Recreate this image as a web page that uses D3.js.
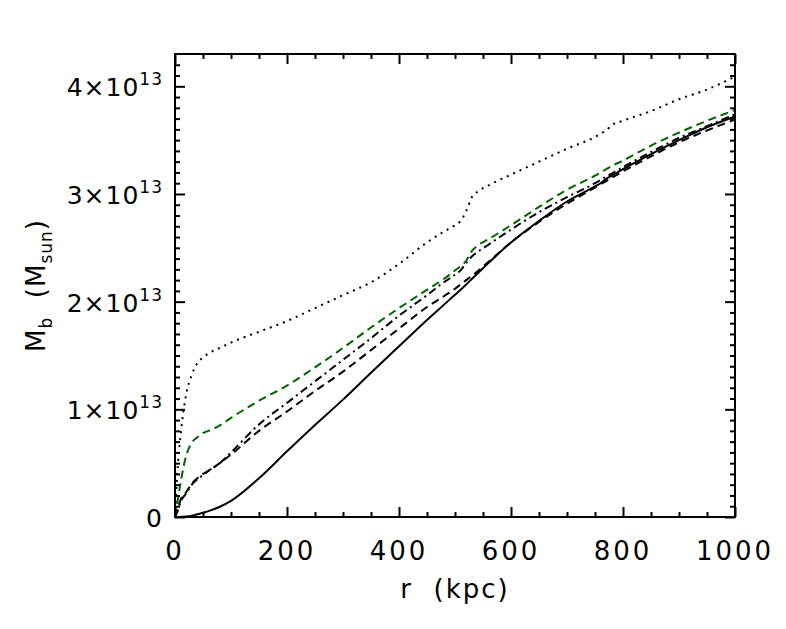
<!DOCTYPE html>
<html>
<head>
<meta charset="utf-8">
<script src="https://cdn.jsdelivr.net/npm/d3@7"></script>
<style>
  body { margin: 0; background: #fff; }
  text { font-family: "DejaVu Sans", sans-serif; fill: #000; }
</style>
</head>
<body>
<div id="chart"></div>
<script>
// radius grid (kpc), shared by all curves
const radius = [0, 5, 10, 20, 30, 40, 50, 60, 80, 100, 150, 200, 250, 300, 350, 400, 450, 480, 500,
  510, 520, 530, 540, 560, 600, 650, 700, 750, 760, 770, 780, 800, 850, 900, 950, 1000];

// enclosed mass in units of 1e13 M_sun
const massSolid = [0, 0, 0.002, 0.005, 0.012, 0.025, 0.04, 0.055, 0.095, 0.15, 0.36, 0.61, 0.855, 1.09, 1.34, 1.585, 1.83, 1.97, 2.065,
  2.11, 2.16, 2.21, 2.26, 2.36, 2.55, 2.75, 2.93, 3.07, 3.1, 3.14, 3.17, 3.23, 3.37, 3.5, 3.62, 3.72];
const massDashed = [0, 0.08, 0.16, 0.23, 0.31, 0.36, 0.4, 0.43, 0.5, 0.58, 0.8, 0.98, 1.17, 1.35, 1.55, 1.75, 1.95, 2.05, 2.12,
  2.16, 2.2, 2.24, 2.28, 2.37, 2.55, 2.74, 2.91, 3.06, 3.09, 3.12, 3.15, 3.21, 3.35, 3.48, 3.59, 3.69];
const massDashDot = [0, 0.06, 0.14, 0.22, 0.3, 0.35, 0.39, 0.43, 0.5, 0.6, 0.86, 1.06, 1.26, 1.46, 1.66, 1.87, 2.06, 2.18, 2.25,
  2.29, 2.36, 2.42, 2.46, 2.53, 2.67, 2.83, 2.97, 3.1, 3.13, 3.16, 3.19, 3.25, 3.39, 3.52, 3.63, 3.74];
const massGreen = [0, 0.16, 0.32, 0.57, 0.69, 0.74, 0.78, 0.8, 0.85, 0.92, 1.08, 1.22, 1.39, 1.57, 1.76, 1.94, 2.11, 2.21, 2.29,
  2.33, 2.38, 2.47, 2.52, 2.58, 2.71, 2.88, 3.04, 3.17, 3.2, 3.23, 3.26, 3.31, 3.45, 3.57, 3.68, 3.78];
const massDotted = [0, 0.48, 0.76, 1.14, 1.32, 1.43, 1.48, 1.52, 1.57, 1.62, 1.72, 1.82, 1.94, 2.06, 2.18, 2.35, 2.55, 2.65, 2.71,
  2.75, 2.84, 2.97, 3.02, 3.08, 3.18, 3.3, 3.42, 3.53, 3.56, 3.59, 3.64, 3.68, 3.77, 3.88, 3.97, 4.09];

const xMajorTicks = [0, 200, 400, 600, 800, 1000];
const yMajorTicks = [0, 1, 2, 3, 4];

const W = 786, H = 629;
const margin = { top: 54, right: 51, bottom: 112, left: 175 };
const width = W - margin.left - margin.right,
      height = H - margin.top - margin.bottom;

const xScale = d3.scaleLinear().domain([0, 1000]).range([0, width]);
const yScale = d3.scaleLinear().domain([0, 4.3]).range([height, 0]);

const svg = d3.select("#chart").append("svg")
  .attr("width", W).attr("height", H);
const g = svg.append("g").attr("transform", `translate(${margin.left},${margin.top})`);

// curves
const series = [
  { y: massSolid, color: "#000", dash: null },
  { y: massDashed, color: "#000", dash: "8,5" },
  { y: massDashDot, color: "#000", dash: "8,4,2,4" },
  { y: massDotted, color: "#000", dash: "2,5" },
  { y: massGreen, color: "#006400", dash: "8,5" }
];
const line = d3.line().x(d => xScale(d[0])).y(d => yScale(d[1])).curve(d3.curveMonotoneX);
series.forEach(s => {
  g.append("path")
    .datum(radius.map((r, i) => [r, s.y[i]]))
    .attr("fill", "none")
    .attr("stroke", s.color)
    .attr("stroke-width", 2)
    .attr("stroke-dasharray", s.dash)
    .attr("d", line);
});

// ticks (inward on all four sides)
const xMinor = d3.range(0, 1001, 50).filter(v => v % 200 !== 0);
const yMinor = d3.range(0, 43).map(v => v / 10).filter(v => Math.abs(v - Math.round(v)) > 1e-6);

function tickAxis(axis, values, size, transform) {
  const a = g.append("g").attr("transform", transform)
    .call(axis.tickValues(values).tickSize(-size).tickFormat(""));
  a.select(".domain").remove();
  a.selectAll("line").attr("stroke", "#000").attr("stroke-width", 2);
}
tickAxis(d3.axisBottom(xScale), xMajorTicks, 10, `translate(0,${height})`);
tickAxis(d3.axisBottom(xScale), xMinor, 5, `translate(0,${height})`);
tickAxis(d3.axisTop(xScale), xMajorTicks, 10, "translate(0,0)");
tickAxis(d3.axisTop(xScale), xMinor, 5, "translate(0,0)");
tickAxis(d3.axisLeft(yScale), yMajorTicks, 10, "translate(0,0)");
tickAxis(d3.axisLeft(yScale), yMinor, 5, "translate(0,0)");
tickAxis(d3.axisRight(yScale), yMajorTicks, 10, `translate(${width},0)`);
tickAxis(d3.axisRight(yScale), yMinor, 5, `translate(${width},0)`);

// frame
g.append("rect")
  .attr("width", width).attr("height", height)
  .attr("fill", "none").attr("stroke", "#000").attr("stroke-width", 2);

// x tick labels
g.selectAll(".xlab").data(xMajorTicks).enter().append("text")
  .attr("x", d => xScale(d)).attr("y", height + 43)
  .attr("text-anchor", "middle")
  .attr("font-size", 26).attr("letter-spacing", 3)
  .text(d => d);

// y tick labels with superscript exponent
yMajorTicks.forEach(v => {
  const t = g.append("text")
    .attr("x", -12).attr("y", yScale(v) + 10)
    .attr("text-anchor", "end")
    .attr("font-size", 25).attr("letter-spacing", 1);
  if (v === 0) { t.text("0"); return; }
  t.append("tspan").text(`${v}×10`);
  t.append("tspan").attr("dy", -11).attr("font-size", 17).attr("letter-spacing", 1).text("13");
});

// axis titles
svg.append("text")
  .attr("x", margin.left + width / 2).attr("y", 598)
  .attr("text-anchor", "middle").attr("font-size", 26).attr("letter-spacing", 2)
  .attr("xml:space", "preserve")
  .text("r  (kpc)");

const yTitle = svg.append("text")
  .attr("transform", `translate(45,${margin.top + height / 2}) rotate(-90)`)
  .attr("text-anchor", "middle").attr("font-size", 26).attr("letter-spacing", 1)
  .attr("xml:space", "preserve");
yTitle.append("tspan").text("M");
yTitle.append("tspan").attr("dy", 7).attr("font-size", 17).text("b");
yTitle.append("tspan").attr("dy", -7).text("  (M");
yTitle.append("tspan").attr("dy", 7).attr("font-size", 17).text("sun");
yTitle.append("tspan").attr("dy", -7).text(")");
</script>
</body>
</html>
